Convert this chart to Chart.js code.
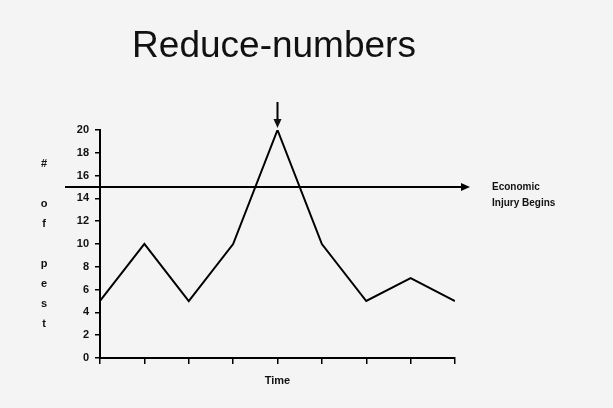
<!DOCTYPE html>
<html>
<head>
<meta charset="utf-8">
<script src="https://cdn.jsdelivr.net/npm/chart.js@4"></script>
<style>
  body { margin: 0; background: #f4f4f4; }
  canvas { display: block; }
</style>
</head>
<body>
<canvas id="PestChart" width="613" height="408"></canvas>
<script>
// Chart data
const timePoints = [0, 1, 2, 3, 4, 5, 6, 7, 8];
const pestCounts = [5, 10, 5, 10, 20, 10, 5, 7, 5];
const injuryLevel = 15;
const chartTitle = "Reduce-numbers";
const yLetters = ["#", "", "o", "f", "", "p", "e", "s", "t"];
const injuryLabel = ["Economic", "Injury Begins"];

//Extra drawing: title, side letters, threshold line and arrows
const annotationPlugin = {
    id: 'annotations',
    beforeDraw(chart) {
        const ctx = chart.ctx;
        ctx.save();
        ctx.fillStyle = '#f4f4f4';
        ctx.fillRect(0, 0, chart.width, chart.height);
        ctx.restore();
    },
    afterDraw(chart) {
        const ctx = chart.ctx;
        const area = chart.chartArea;
        const xs = chart.scales.x;
        const ys = chart.scales.y;
        ctx.save();

        // title
        ctx.fillStyle = '#111';
        ctx.font = '37px "Liberation Sans", Arial, sans-serif';
        ctx.textAlign = 'center';
        ctx.textBaseline = 'middle';
        ctx.fillText(chartTitle, 274, 47);

        // stacked letters for the y label
        ctx.font = 'bold 11px "Liberation Sans", Arial, sans-serif';
        yLetters.forEach((l, i) => ctx.fillText(l, 44, 164 + i * 20));

        // economic injury line with arrow
        const yInj = ys.getPixelForValue(injuryLevel);
        const xEnd = area.right + 15;
        ctx.strokeStyle = '#000';
        ctx.fillStyle = '#000';
        ctx.lineWidth = 2;
        ctx.beginPath();
        ctx.moveTo(area.left - 35, yInj);
        ctx.lineTo(xEnd - 6, yInj);
        ctx.stroke();
        ctx.beginPath();
        ctx.moveTo(xEnd, yInj);
        ctx.lineTo(xEnd - 9, yInj - 4);
        ctx.lineTo(xEnd - 9, yInj + 4);
        ctx.closePath();
        ctx.fill();

        ctx.font = 'bold 10px "Liberation Sans", Arial, sans-serif';
        ctx.textAlign = 'left';
        ctx.fillStyle = '#111';
        injuryLabel.forEach((t, i) => ctx.fillText(t, xEnd + 22, yInj + i * 16));

        // down arrow over the peak
        const peakIdx = pestCounts.indexOf(Math.max(...pestCounts));
        const xPeak = xs.getPixelForValue(timePoints[peakIdx]);
        const yPeak = ys.getPixelForValue(pestCounts[peakIdx]);
        ctx.beginPath();
        ctx.moveTo(xPeak, yPeak - 28);
        ctx.lineTo(xPeak, yPeak - 6);
        ctx.stroke();
        ctx.beginPath();
        ctx.moveTo(xPeak, yPeak - 2);
        ctx.lineTo(xPeak - 4, yPeak - 11);
        ctx.lineTo(xPeak + 4, yPeak - 11);
        ctx.closePath();
        ctx.fill();

        ctx.restore();
    }
};

new Chart(
    document.getElementById("PestChart"),
    {
        type: 'line',
        data: {
            datasets: [{
                data: timePoints.map((t, i) => ({x: t, y: pestCounts[i]})),
                borderColor: '#000',
                borderWidth: 2,
                pointRadius: 0,
                tension: 0
            }]
        },
        options: {
            responsive: false,
            animation: false,
            layout: {padding: {top: 130, right: 158, bottom: 0, left: 0}},
            plugins: {
                legend: {display: false},
                title: {display: false},
                tooltip: {enabled: false}
            },
            scales: {
                x: {
                    type: 'linear',
                    min: 0,
                    max: 8,
                    ticks: {stepSize: 1, display: false},
                    grid: {drawOnChartArea: false, drawTicks: true, tickLength: 6, color: '#000', lineWidth: 1.5},
                    border: {display: true, color: '#000', width: 2},
                    title: {
                        display: true,
                        text: 'Time',
                        color: '#111',
                        font: {family: '"Liberation Sans", Arial, sans-serif', size: 11, weight: 'bold'},
                        padding: {top: 0, bottom: 20}
                    },
                    afterFit: scale => { scale.height = 50; }
                },
                y: {
                    min: 0,
                    max: 20,
                    ticks: {
                        stepSize: 2,
                        color: '#111',
                        padding: 6,
                        font: {family: '"Liberation Sans", Arial, sans-serif', size: 11, weight: 'bold'}
                    },
                    grid: {drawOnChartArea: false, drawTicks: true, tickLength: 5, color: '#000', lineWidth: 1.5},
                    border: {display: true, color: '#000', width: 2},
                    afterFit: scale => { scale.width = 100; }
                }
            }
        },
        plugins: [annotationPlugin]
    }
);
</script>
</body>
</html>
